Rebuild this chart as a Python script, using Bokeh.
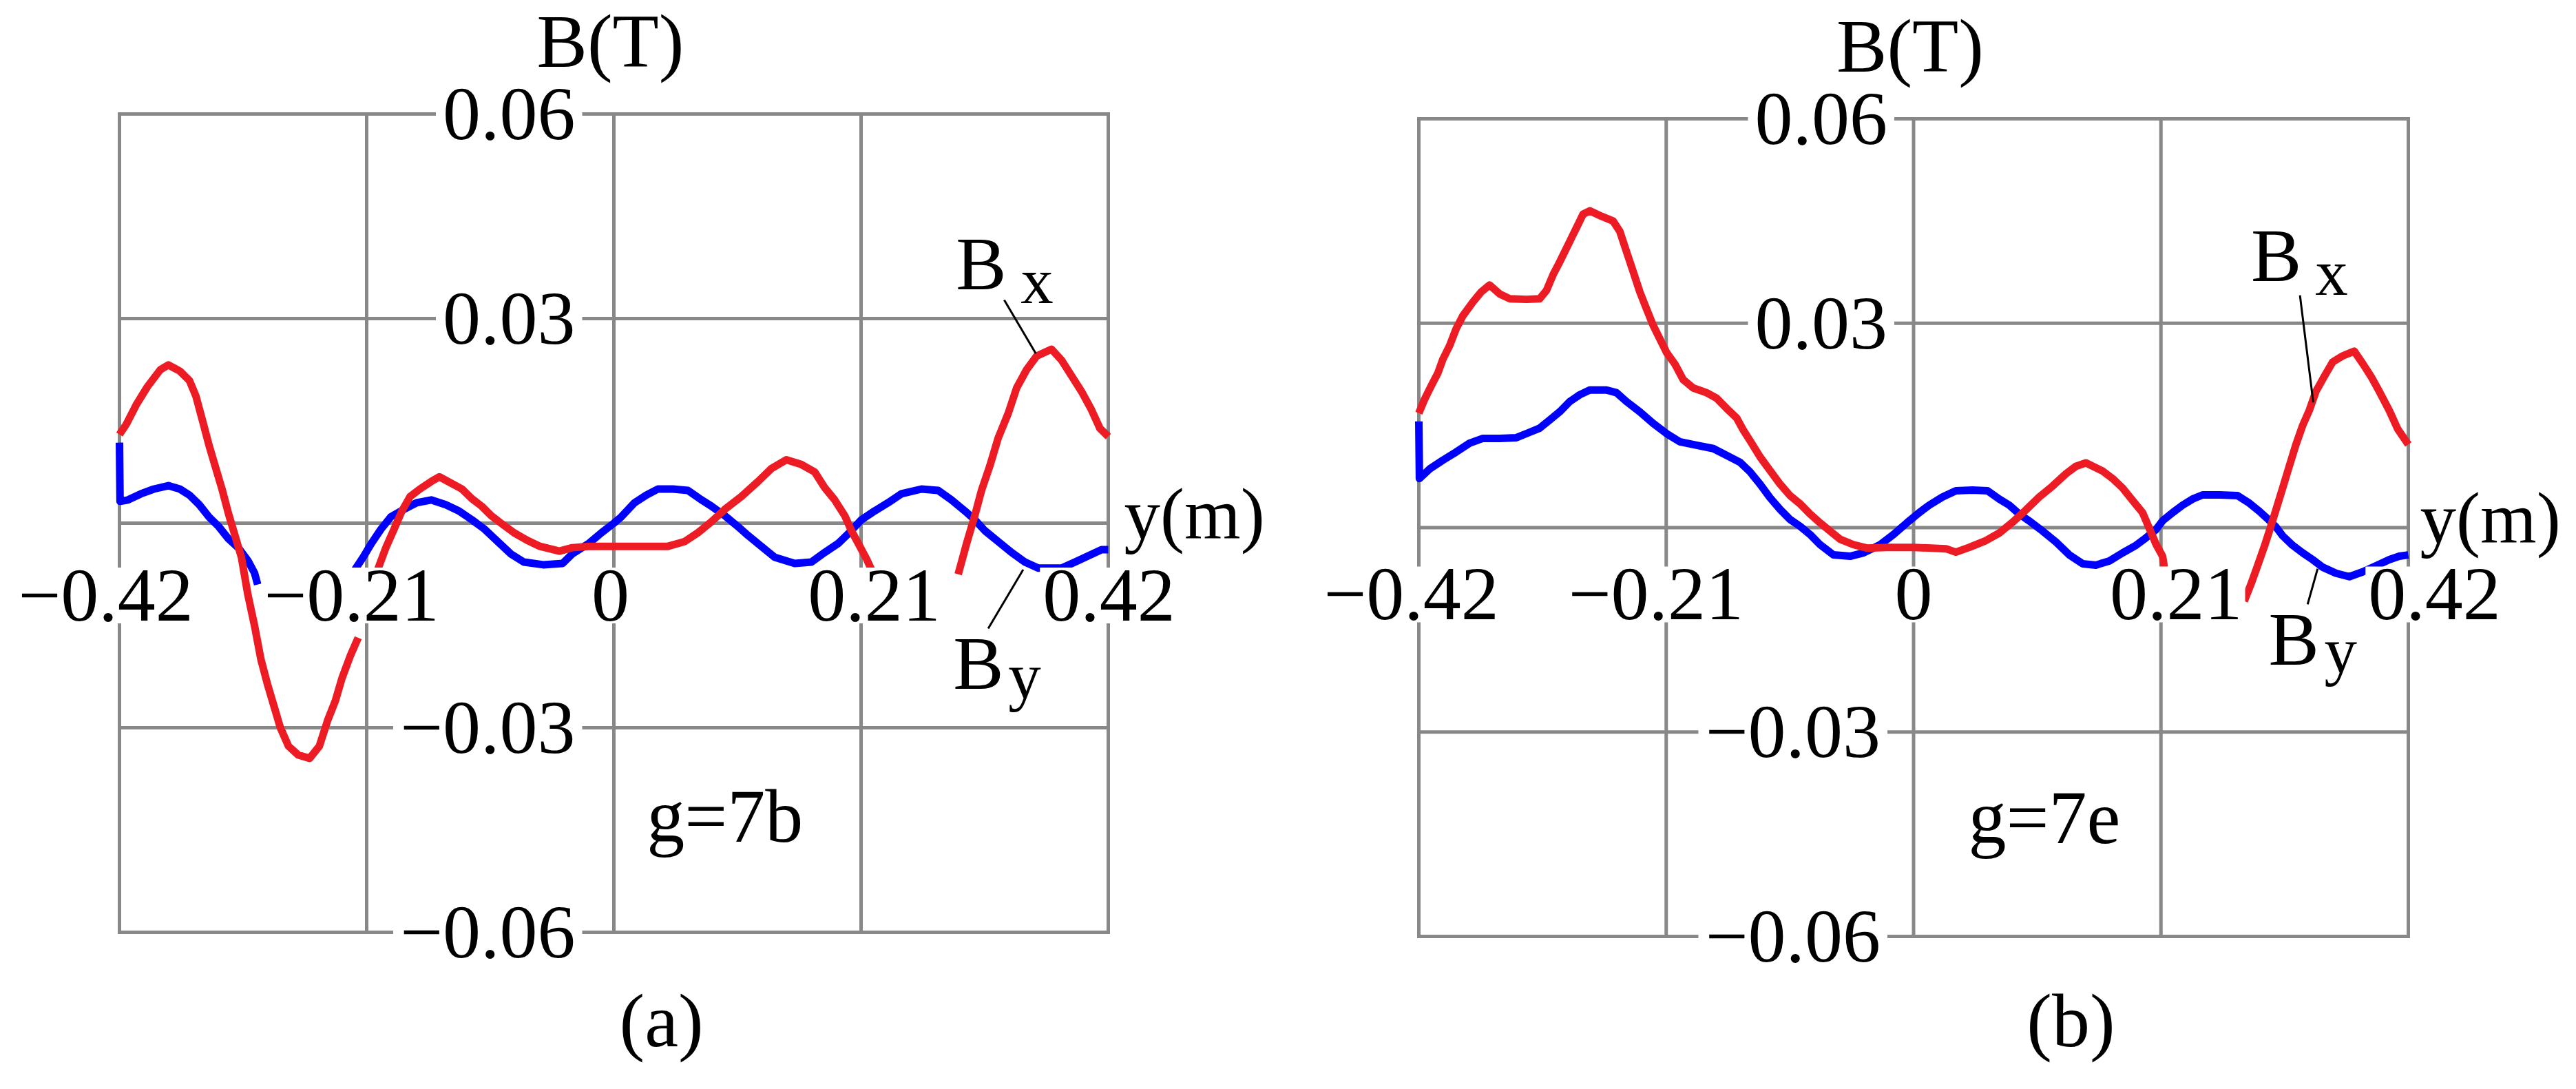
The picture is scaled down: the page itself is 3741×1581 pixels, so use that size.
import math
from bokeh.plotting import figure
from bokeh.models import Label
from bokeh.layouts import row
from bokeh.embed import file_html
from bokeh.resources import INLINE

NaN = float("nan")
FONT = "Liberation Serif"
GRID = "#888888"
RED = "#ED1C24"
BLUE = "#0000FF"

# ---------------- axes / ticks ----------------
x_ticks = [-0.42, -0.21, 0.0, 0.21, 0.42]
x_tick_labels = ["\u22120.42", "\u22120.21", "0", "0.21", "0.42"]
y_grid = [-0.06, -0.03, 0.0, 0.03, 0.06]
y_tick_values = [0.06, 0.03, -0.03, -0.06]
y_tick_labels = ["0.06", "0.03", "\u22120.03", "\u22120.06"]
X_MIN, X_MAX = -0.42, 0.42
Y_MIN, Y_MAX = -0.06, 0.06

# ---------------- panel (a): g = 7b ----------------
a_bx_y = [-0.4200, -0.4142, -0.4059, -0.3963, -0.3853, -0.3784, -0.3687, -0.3605, -0.3550,
          -0.3494, -0.3439, -0.3384, -0.3329, -0.3274, -0.3219, -0.3164, -0.3109, -0.3053,
          -0.2998, -0.2943, -0.2888, -0.2833, -0.2764, -0.2681, -0.2585, -0.2502, -0.2433,
          -0.2365, -0.2309, -0.2240, -0.2172, NaN,
          -0.2006, -0.1937, -0.1868, -0.1800, -0.1731, -0.1648, -0.1552, -0.1483, -0.1386,
          -0.1290, -0.1207, -0.1124, -0.1042, -0.0959, -0.0849, -0.0738, -0.0628, -0.0463,
          -0.0353, -0.0215, 0.0000, 0.0459, 0.0601, 0.0714, 0.0828, 0.0941, 0.1083, 0.1224,
          0.1338, 0.1465, 0.1593, 0.1706, 0.1791, 0.1876, 0.1961, 0.2018, 0.2089, 0.2145,
          0.2188, NaN,
          0.2925, 0.2996, 0.3066, 0.3123, 0.3194, 0.3265, 0.3350, 0.3421, 0.3506, 0.3591,
          0.3718, 0.3803, 0.3888, 0.3973, 0.4058, 0.4129, 0.4200]
a_bx_v = [0.0130, 0.0145, 0.0173, 0.0200, 0.0225, 0.0232, 0.0223, 0.0209, 0.0186,
          0.0150, 0.0114, 0.0082, 0.0050, 0.0014, -0.0018, -0.0050, -0.0105, -0.0150,
          -0.0200, -0.0236, -0.0268, -0.0300, -0.0327, -0.0340, -0.0345, -0.0327, -0.0290,
          -0.0260, -0.0227, -0.0195, -0.0168, NaN,
          -0.0068, -0.0036, -0.0009, 0.0018, 0.0039, 0.0050, 0.0061, 0.0068, 0.0059,
          0.0050, 0.0036, 0.0025, 0.0011, 0.0000, -0.0014, -0.0025, -0.0034, -0.0041,
          -0.0036, -0.0034, -0.0034, -0.0034, -0.0027, -0.0014, 0.0002, 0.0020, 0.0039, 0.0061,
          0.0080, 0.0093, 0.0086, 0.0075, 0.0052, 0.0034, 0.0011, -0.0011, -0.0034, -0.0052,
          -0.0068, NaN,
          -0.0075, -0.0030, 0.0011, 0.0048, 0.0084, 0.0125, 0.0161, 0.0198, 0.0225, 0.0245,
          0.0255, 0.0239, 0.0216, 0.0193, 0.0166, 0.0139, 0.0127]

a_by_y = [-0.4200, -0.4195, -0.4128, -0.4018, -0.3908, -0.3784, -0.3687, -0.3605, -0.3522,
          -0.3439, -0.3357, -0.3274, -0.3191, -0.3109, -0.3053, -0.3026, NaN,
          -0.2199, -0.2130, -0.2061, -0.1979, -0.1896, -0.1786, -0.1675, -0.1552, -0.1428,
          -0.1317, -0.1207, -0.1097, -0.0987, -0.0876, -0.0766, -0.0601, -0.0435, -0.0353,
          -0.0215, -0.0105, 0.0000, 0.0062, 0.0176, 0.0275, 0.0374, 0.0502, 0.0629, 0.0728,
          0.0828, 0.0941, 0.1054, 0.1139, 0.1253, 0.1366, 0.1536, 0.1678, 0.1791, 0.1904,
          0.1989, 0.2103, 0.2216, 0.2330, 0.2443, 0.2613, 0.2755, 0.2868, 0.2981, 0.3066,
          0.3151, 0.3265, 0.3378, 0.3492, 0.3605, 0.3803, 0.3917, 0.4030, 0.4143, 0.4200]
a_by_v = [0.0118, 0.0032, 0.0034, 0.0043, 0.0050, 0.0055, 0.0050, 0.0041, 0.0027,
          0.0009, -0.0005, -0.0023, -0.0036, -0.0055, -0.0073, -0.0090, NaN,
          -0.0068, -0.0050, -0.0030, -0.0009, 0.0009, 0.0020, 0.0030, 0.0034, 0.0027,
          0.0018, 0.0005, -0.0009, -0.0027, -0.0045, -0.0057, -0.0061, -0.0059, -0.0045,
          -0.0030, -0.0014, 0.0000, 0.0009, 0.0030, 0.0041, 0.0050, 0.0050, 0.0048, 0.0036,
          0.0025, 0.0011, -0.0005, -0.0018, -0.0034, -0.0050, -0.0059, -0.0057, -0.0043, -0.0030,
          -0.0016, 0.0005, 0.0018, 0.0030, 0.0043, 0.0050, 0.0048, 0.0034, 0.0018, 0.0005,
          -0.0011, -0.0027, -0.0043, -0.0057, -0.0066, -0.0066, -0.0057, -0.0048, -0.0039, -0.0039]

# ---------------- panel (b): g = 7e ----------------
b_bx_y = [-0.4200, -0.4152, -0.4095, -0.4038, -0.3996, -0.3939, -0.3883, -0.3826, -0.3741,
          -0.3670, -0.3599, -0.3514, -0.3429, -0.3287, -0.3174, -0.3117, -0.3061, -0.3004,
          -0.2919, -0.2862, -0.2806, -0.2749, -0.2650, -0.2551, -0.2494, -0.2437, -0.2381,
          -0.2324, -0.2267, -0.2211, -0.2154, -0.2097, -0.2026, -0.1955, -0.1871, -0.1757,
          -0.1672, -0.1587, -0.1502, -0.1445, -0.1375, -0.1304, -0.1219, -0.1134, -0.1049,
          -0.0964, -0.0879, -0.0794, -0.0709, -0.0624, -0.0510, -0.0397, -0.0227, 0.0000,
          0.0275, 0.0359, 0.0473, 0.0614, 0.0727, 0.0841, 0.0954, 0.1067, 0.1180, 0.1293,
          0.1378, 0.1463, 0.1605, 0.1690, 0.1775, 0.1859, 0.1944, 0.2001, 0.2057, 0.2114,
          0.2128, NaN,
          0.2807, 0.2864, 0.2920, 0.2977, 0.3020, 0.3076, 0.3133, 0.3189, 0.3246, 0.3303,
          0.3359, 0.3416, 0.3487, 0.3557, 0.3642, 0.3741, 0.3812, 0.3883, 0.3953, 0.4038,
          0.4109, 0.4180, 0.4200]
b_bx_v = [0.0168, 0.0188, 0.0208, 0.0227, 0.0247, 0.0267, 0.0292, 0.0311, 0.0331,
          0.0346, 0.0356, 0.0343, 0.0336, 0.0335, 0.0336, 0.0348, 0.0371, 0.0390,
          0.0420, 0.0440, 0.0460, 0.0465, 0.0457, 0.0450, 0.0435, 0.0405, 0.0376,
          0.0346, 0.0321, 0.0297, 0.0277, 0.0257, 0.0240, 0.0217, 0.0205, 0.0198,
          0.0190, 0.0175, 0.0161, 0.0143, 0.0124, 0.0104, 0.0084, 0.0064, 0.0047,
          0.0035, 0.0020, 0.0007, -0.0005, -0.0017, -0.0025, -0.0030, -0.0029, -0.0029,
          -0.0031, -0.0036, -0.0029, -0.0019, -0.0008, 0.0008, 0.0026, 0.0045, 0.0061, 0.0079,
          0.0090, 0.0095, 0.0083, 0.0072, 0.0058, 0.0040, 0.0022, -0.0001, -0.0024, -0.0042,
          -0.0058, NaN,
          -0.0108, -0.0083, -0.0056, -0.0028, -0.0005, 0.0026, 0.0058, 0.0090, 0.0122, 0.0150,
          0.0172, 0.0200, 0.0222, 0.0243, 0.0252, 0.0259, 0.0241, 0.0222, 0.0200, 0.0172,
          0.0145, 0.0127, 0.0122]

b_by_y = [-0.4200, -0.4195, -0.4109, -0.3996, -0.3883, -0.3769, -0.3656, -0.3514, -0.3372,
          -0.3287, -0.3174, -0.3089, -0.3004, -0.2919, -0.2834, -0.2749, -0.2607, -0.2522,
          -0.2437, -0.2324, -0.2211, -0.2097, -0.1984, -0.1842, -0.1700, -0.1587, -0.1474,
          -0.1389, -0.1304, -0.1219, -0.1134, -0.1049, -0.0964, -0.0879, -0.0794, -0.0680,
          -0.0539, -0.0425, -0.0283, -0.0170, -0.0057, 0.0048, 0.0133, 0.0246, 0.0359,
          0.0501, 0.0628, 0.0727, 0.0812, 0.0897, 0.0996, 0.1095, 0.1208, 0.1322, 0.1435,
          0.1548, 0.1661, 0.1775, 0.1888, 0.1973, 0.2057, 0.2114, 0.2199, 0.2284, 0.2369,
          0.2454, 0.2595, 0.2751, 0.2850, 0.2935, 0.3005, 0.3076, 0.3133, 0.3218, 0.3303,
          0.3388, 0.3472, 0.3586, 0.3699, 0.3812, 0.3925, 0.4038, 0.4123, 0.4200]
b_by_v = [0.0156, 0.0072, 0.0086, 0.0099, 0.0111, 0.0124, 0.0131, 0.0131, 0.0132,
          0.0138, 0.0146, 0.0158, 0.0170, 0.0185, 0.0195, 0.0202, 0.0202, 0.0198,
          0.0185, 0.0170, 0.0153, 0.0138, 0.0126, 0.0121, 0.0116, 0.0106, 0.0096,
          0.0082, 0.0064, 0.0044, 0.0027, 0.0012, 0.0002, -0.0010, -0.0025, -0.0040,
          -0.0042, -0.0037, -0.0025, -0.0010, 0.0007, 0.0022, 0.0033, 0.0045, 0.0054,
          0.0055, 0.0054, 0.0042, 0.0033, 0.0020, 0.0008, -0.0005, -0.0021, -0.0040, -0.0053,
          -0.0055, -0.0049, -0.0037, -0.0026, -0.0015, -0.0003, 0.0010, 0.0022, 0.0033, 0.0042,
          0.0048, 0.0048, 0.0047, 0.0036, 0.0024, 0.0013, 0.0001, -0.0012, -0.0026, -0.0037,
          -0.0047, -0.0058, -0.0067, -0.0072, -0.0065, -0.0056, -0.0047, -0.0042, -0.0040]

# layout of each panel in pixels: figure size and where the data box sits inside it
panel_a = dict(
    bx=(a_bx_y, a_bx_v), by=(a_by_y, a_by_v),
    width=1862, height=1565, left=173, right=253, top=165, bottom=212,
    xlab_off=[-20, -22, -5, 19, 1], xlab_dy=-142, ylab_dx=[-46, -46, -46, -46],
    ym_dx=23,
    g_text="g=7b", g_pos=(0.0279, -0.0467),
    cap="(a)", cap_x=0.0404, cap_dy=-166,
    bx_B=(0.2906, 0.03426), bx_s=(0.3455, 0.03222), bx_lead=((0.3316, 0.3584), (0.03273, 0.02489)),
    by_B=(0.2882, -0.02432), by_s=(0.3350, -0.02570), by_lead=((0.3180, 0.3477), (-0.01545, -0.00682)),
)
panel_b = dict(
    bx=(b_bx_y, b_bx_v), by=(b_by_y, b_by_v),
    width=1860, height=1565, left=198, right=225, top=172, bottom=206,
    xlab_off=[-11, -15, 0, 22, 38], xlab_dy=-134, ylab_dx=[-28, -28, -38, -38],
    ym_dx=17,
    g_text="g=7e", g_pos=(0.0465, -0.0463),
    cap="(b)", cap_x=0.1335, cap_dy=-160,
    bx_B=(0.2864, 0.03616), bx_s=(0.3410, 0.03420), bx_lead=((0.3280, 0.3393), (0.03410, 0.01837)),
    by_B=(0.3014, -0.02015), by_s=(0.3487, -0.02130), by_lead=((0.3345, 0.3430), (-0.01126, -0.00602)),
)


def add_text(p, x, y, text, size=110, align="left", xo=0, yo=0, bg=False, pad=0):
    # yo is the offset of the text baseline; anchor the label at the middle of the em box
    mid = 0.3375 * size
    kw = dict(x=x, y=y, text=text, text_font=FONT, text_font_size=f"{size}px",
              text_align=align, text_baseline="middle", x_offset=xo, y_offset=yo + mid,
              text_color="black")
    if bg:
        kw.update(background_fill_color="white", background_fill_alpha=1.0, padding=pad)
    p.add_layout(Label(**kw))


def make_panel(cfg):
    fw = cfg["width"] - cfg["left"] - cfg["right"]
    fh = cfg["height"] - cfg["top"] - cfg["bottom"]
    sx = fw / (X_MAX - X_MIN)
    sy = fh / (Y_MAX - Y_MIN)
    xr = (X_MIN - cfg["left"] / sx, X_MAX + cfg["right"] / sx)
    yr = (Y_MIN - cfg["bottom"] / sy, Y_MAX + cfg["top"] / sy)
    p = figure(width=cfg["width"], height=cfg["height"], x_range=xr, y_range=yr,
               x_axis_location=None, y_axis_location=None, toolbar_location=None,
               output_backend="svg", title=None,
               min_border_left=0, min_border_right=0, min_border_top=0, min_border_bottom=0)
    p.xgrid.visible = False
    p.ygrid.visible = False
    p.outline_line_color = None
    p.background_fill_color = "white"
    p.border_fill_color = "white"

    # grid box drawn from the tick arrays
    p.segment(x0=x_ticks, x1=x_ticks, y0=[Y_MIN] * len(x_ticks), y1=[Y_MAX] * len(x_ticks),
              line_color=GRID, line_width=5, line_cap="square")
    p.segment(x0=[X_MIN] * len(y_grid), x1=[X_MAX] * len(y_grid), y0=y_grid, y1=y_grid,
              line_color=GRID, line_width=5, line_cap="square")

    # curves
    p.line(cfg["by"][0], cfg["by"][1], line_color=BLUE, line_width=11, line_join="round")
    p.line(cfg["bx"][0], cfg["bx"][1], line_color=RED, line_width=11, line_join="round")

    # leader lines
    p.line(*cfg["bx_lead"], line_color="black", line_width=3)
    p.line(*cfg["by_lead"], line_color="black", line_width=3)

    # tick labels (white boxes hide the grid and curves behind them)
    for xv, txt, dx in zip(x_ticks, x_tick_labels, cfg["xlab_off"]):
        add_text(p, xv, 0.0, txt, align="center", xo=dx, yo=cfg["xlab_dy"], bg=True, pad=4)
    for yv, txt, dx in zip(y_tick_values, y_tick_labels, cfg["ylab_dx"]):
        add_text(p, 0.0, yv, txt, align="right", xo=dx, yo=-37, bg=True, pad=10)

    # axis titles
    add_text(p, 0.0, Y_MAX, "B(T)", align="center", xo=-5, yo=68)
    add_text(p, X_MAX, 0.0, "y(m)", size=105, align="left", xo=cfg["ym_dx"], yo=-22)

    # curve names
    add_text(p, cfg["bx_B"][0], cfg["bx_B"][1], "B")
    add_text(p, cfg["bx_s"][0], cfg["bx_s"][1], "x", size=95)
    add_text(p, cfg["by_B"][0], cfg["by_B"][1], "B")
    add_text(p, cfg["by_s"][0], cfg["by_s"][1], "y", size=95)

    # annotation and caption
    add_text(p, cfg["g_pos"][0], cfg["g_pos"][1], cfg["g_text"])
    add_text(p, cfg["cap_x"], Y_MIN, cfg["cap"], align="center", yo=cfg["cap_dy"])
    return p


pa = make_panel(panel_a)
pb = make_panel(panel_b)
layout = row(pa, pb)

open("out.html", "w").write(file_html(layout, INLINE))
